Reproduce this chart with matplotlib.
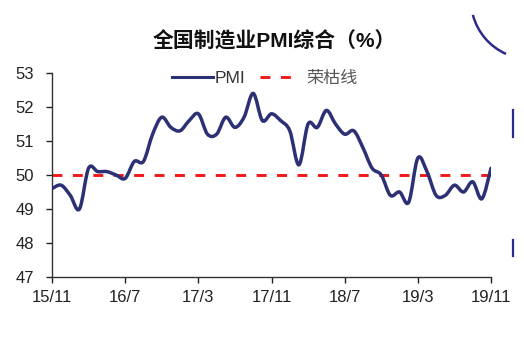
import matplotlib
matplotlib.use("Agg")
import matplotlib.pyplot as plt
from matplotlib.path import Path
from matplotlib.patches import PathPatch, Arc
from matplotlib.lines import Line2D
import numpy as np

plt.rcParams['font.family'] = ['Liberation Sans', 'Noto Sans CJK SC', 'DejaVu Sans']

# monthly data 2015-11 .. 2019-11
pmi = [49.6, 49.7,
       49.4, 49.0, 50.2, 50.1, 50.1, 50.0, 49.9, 50.4, 50.4, 51.2, 51.7, 51.4,
       51.3, 51.6, 51.8, 51.2, 51.2, 51.7, 51.4, 51.7, 52.4, 51.6, 51.8, 51.6,
       51.3, 50.3, 51.5, 51.4, 51.9, 51.5, 51.2, 51.3, 50.8, 50.2, 50.0, 49.4,
       49.5, 49.2, 50.5, 50.1, 49.4, 49.4, 49.7, 49.5, 49.8, 49.3, 50.2]
threshold = 50
tick_labels = ["15/11", "16/7", "17/3", "17/11", "18/7", "19/3", "19/11"]
title = "全国制造业PMI综合（%）"
series_names = ["PMI", "荣枯线"]

navy = "#2C3074"
red = "#F01818"

W, H = 524, 338
fig = plt.figure(figsize=(W/100, H/100), dpi=100)
fig.patch.set_facecolor("white")
ax = fig.add_axes([52/W, 1-277/H, (491-52)/W, (277-73)/H])

x = np.arange(len(pmi), dtype=float)
y = np.array(pmi, dtype=float)

# smoothed line (Bezier through data points)
verts = [(x[0], y[0])]
codes = [Path.MOVETO]
n = len(x)
for i in range(n-1):
    p0 = np.array([x[max(i-1, 0)], y[max(i-1, 0)]])
    p1 = np.array([x[i], y[i]])
    p2 = np.array([x[i+1], y[i+1]])
    p3 = np.array([x[min(i+2, n-1)], y[min(i+2, n-1)]])
    c1 = p1 + (p2 - p0) / 6
    c2 = p2 - (p3 - p1) / 6
    verts += [tuple(c1), tuple(c2), tuple(p2)]
    codes += [Path.CURVE4]*3
ax.add_patch(PathPatch(Path(verts, codes), fill=False, edgecolor=navy,
                       lw=2.5, capstyle='round', joinstyle='round', zorder=3))

ax.axhline(threshold, color=red, lw=2.1, dashes=(3.4, 3.6), zorder=2)

ax.set_xlim(0, len(pmi)-1)
ax.set_ylim(47, 53)
ax.set_yticks(range(47, 54))
ax.set_xticks(np.arange(0, len(pmi), 8))
ax.set_xticklabels(tick_labels)
for s in ["top", "right"]:
    ax.spines[s].set_visible(False)
for s in ["left", "bottom"]:
    ax.spines[s].set_color("#333333")
    ax.spines[s].set_linewidth(1.0)
ax.tick_params(axis='y', direction='out', length=4, width=1, pad=9,
               labelsize=12, colors="#222222")
ax.tick_params(axis='x', direction='out', length=4, width=1, pad=5,
               labelsize=12, colors="#222222")

fig.text(274/W, 1-41/H, title, ha='center', va='center',
         fontsize=15, fontweight='bold', color="#111111")

h1 = [Line2D([], [], color=navy, lw=2.2)]
leg1 = fig.legend(h1, series_names[:1], loc='center left',
                  bbox_to_anchor=(172/W, 1-78/H), frameon=False,
                  borderpad=0, borderaxespad=0,
                  fontsize=12.5, handlelength=2.36, handletextpad=0.08)
leg1.get_texts()[0].set_color("#333333")
h2 = [Line2D([], [], color=red, lw=2.1, dashes=(3.4, 3.6))]
leg2 = fig.legend(h2, series_names[1:], loc='center left',
                  bbox_to_anchor=(260/W, 1-78/H), frameon=False,
                  borderpad=0, borderaxespad=0,
                  fontsize=12.3, handlelength=2.16, handletextpad=0.58)
leg2.get_texts()[0].set_color("#555555")

# decorative scan marks at top right
arc = Arc((530/W, 1-0/H), 118/W, 118/H, theta1=202, theta2=254,
          transform=fig.transFigure, color="#2E2A8A", lw=1.8)
fig.add_artist(arc)
for y0, y1 in [(110, 137), (240, 256)]:
    fig.add_artist(Line2D([513/W, 513/W], [1-y0/H, 1-y1/H],
                          transform=fig.transFigure, color="#2E2A8A", lw=1.6))

fig.savefig("out.png", dpi=100, facecolor="white")
